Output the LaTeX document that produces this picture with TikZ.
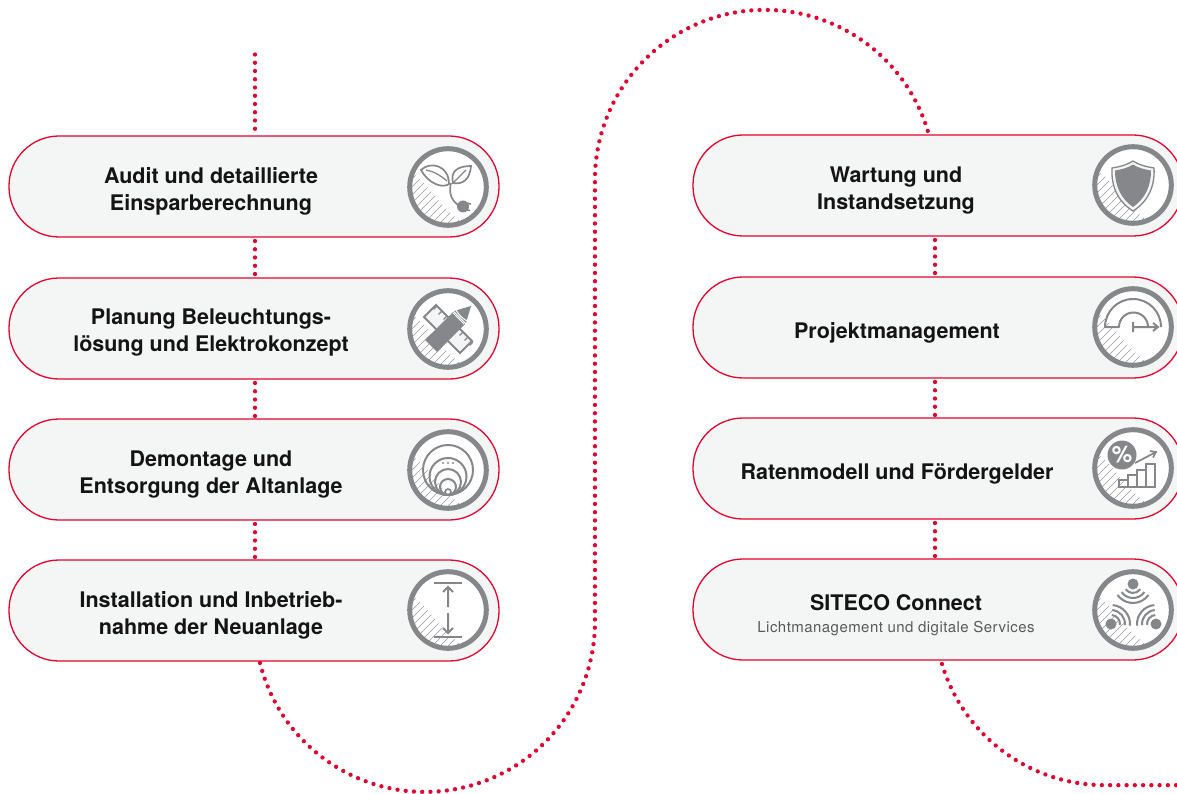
\documentclass[tikz,border=0pt]{standalone}
\usepackage{fontspec}
\setmainfont{TeX Gyre Heros}
\newfontfamily\lightfont[LetterSpace=3]{TeX Gyre Heros}
\usetikzlibrary{arrows.meta}
\definecolor{sred}{HTML}{E4032E}
\definecolor{sgray}{HTML}{85878A}
\definecolor{spill}{HTML}{F4F5F5}
\definecolor{stext}{HTML}{141414}
\pgfdeclarelayer{back}
\pgfsetlayers{back,main}
\tikzset{
  pill/.style={draw=sred,line width=1.3pt,fill=spill,rounded corners=50pt,minimum width=490pt,minimum height=101pt,inner sep=0pt,outer sep=0pt},
  lbl/.style={font=\fontsize{21.5}{27}\selectfont\bfseries,text=stext,align=center,inner sep=0pt},
  sublbl/.style={font=\fontsize{15}{16}\selectfont\lightfont,text=black!65,inner sep=0pt},
  dots/.style={draw=sred,line width=4.3pt,line cap=round,dash pattern=on 0pt off 8.25pt},
  ring/.style={draw=sgray,line width=5pt,fill=white},
  ico/.style={draw=sgray,line width=2pt,line join=miter},
}
\newcommand{\badge}[2]{%
  \begin{scope}[shift={(#1,#2)}]
    \fill[white] (0,0) circle (38);
    \begin{scope}
      \clip (0,0) circle (37);
      \clip (-40,-15) -- (-31,-11) .. controls (-18,0) and (-8,20) .. (15,36) -- (15,42) -- (-42,42) -- cycle;
      \foreach \k in {-105,-97,...,14} \draw[sgray!85,line width=0.6pt] (\k,45) -- (\k+90,-45);
    \end{scope}
    \draw[ring,fill=none] (0,0) circle (38.3);
  \end{scope}}
\begin{document}
\begin{tikzpicture}[x=1pt,y=-1pt]
\useasboundingbox (0,0) rectangle (1177,794);
\clip (0,0) rectangle (1177,794);
% pills
\node[pill] (a1) at (254,186.5) {};
\node[pill] (a2) at (254,328.5) {};
\node[pill] (a3) at (254,469.5) {};
\node[pill] (a4) at (254,610.5) {};
\node[pill] (r1) at (938,185.5) {};
\node[pill] (r2) at (938,327.5) {};
\node[pill] (r3) at (938,468.5) {};
\node[pill] (r4) at (938,609.5) {};
% labels
\node[lbl] (ta1) at (211,191.5) {Audit und detaillierte\\Einsparberechnung};
\node[lbl] (ta2) at (211,333) {Planung Beleuchtungs-\\lösung und Elektrokonzept};
\node[lbl] (ta3) at (211,475) {Demontage und\\Entsorgung der Altanlage};
\node[lbl] (ta4) at (211,615.5) {Installation und Inbetrieb-\\nahme der Neuanlage};
\node[lbl] (tr1) at (896,191) {Wartung und\\Instandsetzung};
\node[lbl] (tr2) at (897,333) {Projektmanagement};
\node[lbl] (tr3) at (897,474) {Ratenmodell und Fördergelder};
\node[lbl] (tr4) at (896,602.5) {SITECO Connect};
\node[sublbl] (tr5) at (896,628.5) {Lichtmanagement und digitale Services};
% connectors
\coordinate (top) at (255,54.5);
\coordinate (c1) at (260,663);
\coordinate (c2) at (942,664);
\begin{pgfonlayer}{back}
\draw[dots] (top) -- ([xshift=1pt]a1.north);
\draw[dots] ([xshift=1pt,yshift=-4pt]a1.south) -- ([xshift=1pt]a2.north);
\draw[dots] ([xshift=1pt,yshift=-4pt]a2.south) -- ([xshift=1pt]a3.north);
\draw[dots] ([xshift=1pt,yshift=-4pt]a3.south) -- ([xshift=1pt]a4.north);
\draw[dots] ([xshift=-3pt,yshift=-4pt]r1.south) -- ([xshift=-3pt]r2.north);
\draw[dots] ([xshift=-3pt,yshift=-4pt]r2.south) -- ([xshift=-3pt]r3.north);
\draw[dots] ([xshift=-3pt,yshift=-4pt]r3.south) -- ([xshift=-3pt]r4.north);
\draw[dots] (c1) arc[start angle=166,end angle=0,radius=170] -- ++(0,-442) arc[start angle=180,end angle=343.6,radius=170];
\draw[dots] (c2) arc[start angle=163.3,end angle=90,radius=170] -- ++(90,0);
\end{pgfonlayer}
% Icon 1 plant
\badge{448}{187}
\begin{scope}[shift={(448,187)}]
  \draw[ico,fill=white,line width=1.7pt] (1,-3) .. controls (-6,2) and (-20,-4) .. (-27,-17) .. controls (-18,-26) and (1,-22) .. cycle;
  \draw[ico,line width=1.3pt] (-1,-6) .. controls (-8,-12) and (-15,-16) .. (-22,-17);
  \draw[ico,fill=white,line width=1.7pt] (5,-4) .. controls (2,-16) and (10,-21) .. (23,-21) .. controls (22,-8) and (15,-2) .. cycle;
  \draw[ico,line width=1.3pt] (5,-4) -- (18,-17);
  \draw[ico,line width=1.7pt] (3,-4) .. controls (1,4) and (2,12) .. (10,18);
  \fill[sgray] (15,19.5) circle (6);
  \draw[ico,line width=1.6pt] (18,16) -- (23,17) (17,22.5) -- (22,23.5);
\end{scope}
% Icon 2 pencil and ruler
\badge{448}{329}
\begin{scope}[shift={(448,329)}]
  \draw[ico,fill=spill,line width=1.8pt] (-12,-24) -- (-24,-12) -- (12,24) -- (24,12) -- cycle;
  \foreach \t in {-17,-12,-7,9,14,19} \draw[ico,line width=1.3pt] (\t+6,\t-6) -- ++(-3.5,3.5);
  \fill[sgray] (-23,11) -- (-11,23) -- (17,-5) -- (5,-17) -- cycle;
  \fill[sgray] (6,-18) -- (18,-6) -- (23,-23) -- cycle;
  \draw[white,line width=1pt] (5,-16) -- (16,-5);
  \draw[white,line width=1pt] (8,-19) .. controls (11,-14) and (14,-11) .. (19,-8);
\end{scope}
% Icon 3 concentric circles
\badge{448}{470}
\begin{scope}[shift={(448,470)}]
  \foreach \r in {25,18.5,13,8} \draw[sgray,line width=2pt] (0,25-\r) circle (\r);
  \draw[sgray,line width=1.7pt] (0,22) circle (3);
  \foreach \x in {-5,0,5} \fill[sgray] (\x,-7) circle (1.2);
\end{scope}
% Icon 4 arrows
\badge{448}{610}
\begin{scope}[shift={(448,610)}]
  \draw[ico] (-14,-27) -- (14,-27) (-14,27) -- (14,27);
  \draw[ico] (0,-3) -- (0,-23) (-5,-18) -- (0,-23) -- (5,-18);
  \draw[ico] (0,3) -- (0,23) (-5,18) -- (0,23) -- (5,18);
\end{scope}
% Icon 5 shield
\badge{1133}{185}
\begin{scope}[shift={(1133,185)}]
  \draw[sgray,fill=spill,line width=1.3pt] (0,-24) .. controls (6,-20) and (14,-18) .. (21,-17) .. controls (22,0) and (16,16) .. (0,26) .. controls (-16,16) and (-22,0) .. (-21,-17) .. controls (-14,-18) and (-6,-20) .. cycle;
  \fill[sgray] (0,-20.5) .. controls (5,-17) and (12,-15.5) .. (18,-14.5) .. controls (18,0) and (13,13) .. (0,22) .. controls (-13,13) and (-18,0) .. (-18,-14.5) .. controls (-12,-15.5) and (-5,-17) .. cycle;
\end{scope}
% Icon 6 gauge
\badge{1133}{327}
\begin{scope}[shift={(1133,327)}]
  \draw[ico,line join=round] (28,0) arc[start angle=0,end angle=-180,radius=28] -- (-14,0) arc[start angle=-180,end angle=0,radius=14.5];
  \draw[ico] (0,-5) -- (0,5) (0,0) -- (25,0) (20,-4) -- (25,0) -- (20,4);
\end{scope}
% Icon 7 percent
\badge{1133}{468}
\begin{scope}[shift={(1133,468)}]
  \fill[sgray] (-11,-13) circle (14.5);
  \node[font=\fontsize{23}{23}\selectfont\bfseries,text=white,inner sep=0pt] (pct) at (-11,-13) {\%};
  \draw[ico,line width=1.7pt] (2,-5) -- (23,-16) (17,-17) -- (23,-16) -- (20,-10.5);
  \draw[ico,line width=1.7pt] (-14,19) rectangle (-5,12) (-5,19) rectangle (4,7) (4,19) rectangle (13,2) (13,19) rectangle (22,-4);
\end{scope}
% Icon 8 connect
\badge{1133}{610}
\begin{scope}[shift={(1133,610)}]
  \fill[sgray] (0,-26) circle (5.5);
  \fill[sgray] (-22,14) circle (5.5);
  \fill[sgray] (23,14) circle (5.5);
  \foreach \r in {9,14,19} {
    \draw[sgray,line width=2pt] (0,-26) ++(35:\r) arc[start angle=35,end angle=145,radius=\r];
    \draw[sgray,line width=2pt] (-22,14) ++(-85:\r) arc[start angle=-85,end angle=5,radius=\r];
    \draw[sgray,line width=2pt] (23,14) ++(-95:\r) arc[start angle=-95,end angle=-185,radius=\r];
  }
\end{scope}
\end{tikzpicture}
\end{document}
